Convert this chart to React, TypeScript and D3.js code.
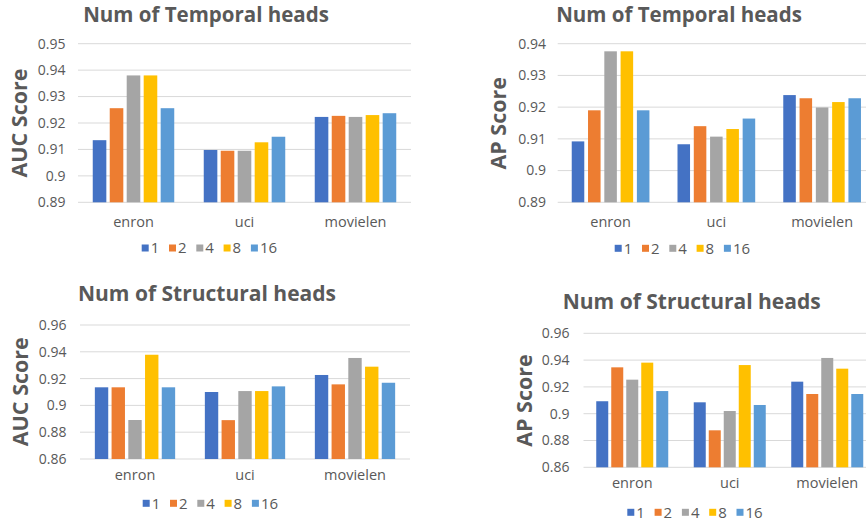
import React from "react";
import * as d3 from "d3";

const categories = ["enron", "uci", "movielen"];
const seriesNames = ["1", "2", "4", "8", "16"];
const colors = ["#4472C4", "#ED7D31", "#A5A5A5", "#FFC000", "#5B9BD5"];

// values[series][category]
const temporalAUC = [
  [0.9135, 0.9098, 0.9223],
  [0.9256, 0.9095, 0.9227],
  [0.938, 0.9095, 0.9223],
  [0.938, 0.9127, 0.923],
  [0.9256, 0.9148, 0.9237],
];
const temporalAP = [
  [0.9092, 0.9083, 0.9238],
  [0.919, 0.914, 0.9228],
  [0.9376, 0.9107, 0.9199],
  [0.9376, 0.9131, 0.9216],
  [0.919, 0.9164, 0.9228],
];
const structuralAUC = [
  [0.9135, 0.91, 0.9227],
  [0.9135, 0.889, 0.9157],
  [0.8891, 0.9107, 0.9354],
  [0.9378, 0.9107, 0.9289],
  [0.9135, 0.9142, 0.9169],
];
const structuralAP = [
  [0.9093, 0.9085, 0.9239],
  [0.9346, 0.8876, 0.9147],
  [0.9254, 0.902, 0.9416],
  [0.9381, 0.9363, 0.9336],
  [0.9169, 0.9065, 0.9147],
];

const ticksTemporalAUC = [0.89, 0.9, 0.91, 0.92, 0.93, 0.94, 0.95];
const ticksTemporalAP = [0.89, 0.9, 0.91, 0.92, 0.93, 0.94];
const ticksStructural = [0.86, 0.88, 0.9, 0.92, 0.94, 0.96];

const tickFormat = (v: number) => String(+v.toFixed(2));

type PanelProps = {
  title: string;
  yTitle: string;
  values: number[][];
  ticks: number[];
  x0: number;
  x1: number;
  yTop: number;
  yBottom: number;
  groupWidth: number;
  barPad: number;
  titleX: number;
  titleY: number;
  titleSize: number;
  yTitleX: number;
  yTitleY: number;
  tickX: number;
  catY: number;
  legendX: number;
  legendY: number;
};

const FONT = "'Open Sans', 'Liberation Sans', Arial, sans-serif";
const TEXT = "#595959";

function Panel(p: PanelProps) {
  const y = d3
    .scaleLinear()
    .domain([p.ticks[0], p.ticks[p.ticks.length - 1]])
    .range([p.yBottom, p.yTop]);
  const xc = d3.scaleBand<string>().domain(categories).range([p.x0, p.x1]).padding(0);
  const xs = d3
    .scaleBand<string>()
    .domain(seriesNames)
    .range([0, p.groupWidth])
    .paddingInner(p.barPad)
    .paddingOuter(0);
  const off = (xc.bandwidth() - p.groupWidth) / 2;

  const legendWidths = seriesNames.map((s) => 7 + 2 + s.length * 8.3 + 10);
  let lx = p.legendX;
  const legendPos = legendWidths.map((w) => {
    const v = lx;
    lx += w;
    return v;
  });

  return (
    <g>
      <text
        x={p.titleX}
        y={p.titleY}
        textAnchor="middle"
        fontFamily={FONT}
        fontWeight="bold"
        fontSize={p.titleSize}
        fill={TEXT}
      >
        {p.title}
      </text>
      <text
        transform={`translate(${p.yTitleX},${p.yTitleY}) rotate(-90)`}
        textAnchor="middle"
        fontFamily={FONT}
        fontWeight="bold"
        fontSize={21.5}
        fill={TEXT}
      >
        {p.yTitle}
      </text>
      {p.ticks.map((t) => (
        <g key={t}>
          <line x1={p.x0} x2={p.x1} y1={y(t)} y2={y(t)} stroke="#D9D9D9" strokeWidth={1} />
          <text
            x={p.tickX}
            y={y(t)}
            dy="0.35em"
            textAnchor="end"
            fontFamily={FONT}
            fontSize={14}
            fill={TEXT}
          >
            {tickFormat(t)}
          </text>
        </g>
      ))}
      {seriesNames.map((s, si) =>
        categories.map((c, ci) => {
          const v = p.values[si][ci];
          return (
            <rect
              key={s + c}
              x={(xc(c) as number) + off + (xs(s) as number)}
              y={y(v)}
              width={xs.bandwidth()}
              height={p.yBottom - y(v)}
              fill={colors[si]}
            />
          );
        })
      )}
      {categories.map((c) => (
        <text
          key={c}
          x={(xc(c) as number) + xc.bandwidth() / 2}
          y={p.catY}
          dy="0.35em"
          textAnchor="middle"
          fontFamily={FONT}
          fontSize={14.5}
          fill={TEXT}
        >
          {c}
        </text>
      ))}
      {seriesNames.map((s, si) => (
        <g key={s}>
          <rect x={legendPos[si]} y={p.legendY - 3.5} width={7} height={7} fill={colors[si]} />
          <text
            x={legendPos[si] + 9}
            y={p.legendY}
            dy="0.35em"
            fontFamily={FONT}
            fontSize={15}
            fill={TEXT}
          >
            {s}
          </text>
        </g>
      ))}
    </g>
  );
}

export default function App() {
  return (
    <svg
      width={866}
      height={523}
      style={{ position: "absolute", left: 0, top: 0, background: "#fff" }}
    >
      <rect width={866} height={523} fill="#fff" />
      <Panel
        title="Num of Temporal heads"
        yTitle="AUC Score"
        values={temporalAUC}
        ticks={ticksTemporalAUC}
        x0={78}
        x1={411}
        yTop={43.7}
        yBottom={202.3}
        groupWidth={81.5}
        barPad={0.2}
        titleX={206}
        titleY={22}
        titleSize={20.5}
        yTitleX={26.5}
        yTitleY={123}
        tickX={65.5}
        catY={222}
        legendX={141.7}
        legendY={248}
      />
      <Panel
        title="Num of Temporal heads"
        yTitle="AP Score"
        values={temporalAP}
        ticks={ticksTemporalAP}
        x0={557.7}
        x1={875}
        yTop={43.7}
        yBottom={202.3}
        groupWidth={77.7}
        barPad={0.23}
        titleX={679}
        titleY={22}
        titleSize={20.5}
        yTitleX={506}
        yTitleY={123.3}
        tickX={546}
        catY={221.7}
        legendX={614.7}
        legendY={248.3}
      />
      <Panel
        title="Num of Structural heads"
        yTitle="AUC Score"
        values={structuralAUC}
        ticks={ticksStructural}
        x0={80}
        x1={410}
        yTop={325}
        yBottom={459}
        groupWidth={80.3}
        barPad={0.2}
        titleX={207}
        titleY={301}
        titleSize={21}
        yTitleX={28}
        yTitleY={391.7}
        tickX={66.5}
        catY={475}
        legendX={142.7}
        legendY={503.3}
      />
      <Panel
        title="Num of Structural heads"
        yTitle="AP Score"
        values={structuralAP}
        ticks={ticksStructural}
        x0={583.5}
        x1={876}
        yTop={333.3}
        yBottom={467.3}
        groupWidth={72}
        barPad={0.2}
        titleX={691.7}
        titleY={309}
        titleSize={21}
        yTitleX={532}
        yTitleY={400.5}
        tickX={569.5}
        catY={483.3}
        legendX={627.3}
        legendY={512.3}
      />
    </svg>
  );
}
